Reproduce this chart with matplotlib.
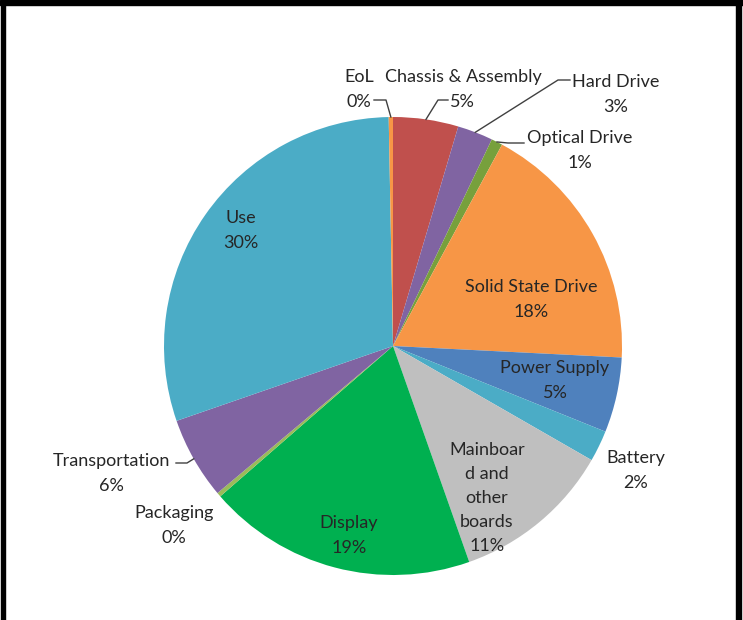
import numpy as np
import matplotlib.pyplot as plt
from matplotlib.patches import Rectangle

# slices, clockwise from 12 o'clock
names = ['Chassis & Assembly', 'Hard Drive', 'Optical Drive', 'Solid State Drive',
         'Power Supply', 'Battery', 'Mainboar\nd and\nother\nboards', 'Display',
         'Packaging', 'Transportation', 'Use', 'EoL']
shares = [4.6, 2.5, 0.8, 17.9, 5.3, 2.2, 11.3, 19.0, 0.3, 5.8, 30.0, 0.3]
pct_labels = ['5%', '3%', '1%', '18%', '5%', '2%', '11%', '19%', '0%', '6%', '30%', '0%']
colors = ['#C0504D', '#8064A2', '#77A03C', '#F79646', '#4F81BD', '#4BACC6',
          '#BFBFBF', '#00B050', '#9BBB59', '#8064A2', '#4BACC6', '#F79646']

W, H = 743, 620
txt_col = '#262626'
fs = 13
plt.rcParams['font.family'] = ['Lato', 'DejaVu Sans']

fig = plt.figure(figsize=(W / 100, H / 100), dpi=100)
ax = fig.add_axes([0, 0, 1, 1])

cx, cy, r = 393, H - 346, 229
wedges, _ = ax.pie(shares, colors=colors, startangle=90, counterclock=False,
                   center=(cx, cy), radius=r, frame=True,
                   wedgeprops=dict(linewidth=0))
ax.set_xlim(0, W)
ax.set_ylim(0, H)
ax.set_aspect('equal')
ax.axis('off')

# label positions in pixel coords (x of name, y of name line, x of pct)
label_pos = {
    'Chassis & Assembly': (463, 77, 462),
    'Hard Drive': (616, 82, 616),
    'Optical Drive': (580, 138, 580),
    'Solid State Drive': (531, 287, 531),
    'Power Supply': (555, 368, 555),
    'Battery': (636, 458, 636),
    'Display': (349, 523, 349),
    'Packaging': (174, 513, 174),
    'Transportation': (111, 461, 111),
    'Use': (241, 218, 241),
    'EoL': (359, 77, 359),
}
for name, pct in zip(names, pct_labels):
    if name.startswith('Mainboar'):
        ax.text(487, H - 498, name + '\n' + pct, ha='center', va='center',
                fontsize=fs, color=txt_col, linespacing=1.62)
        continue
    x, y, xp = label_pos[name]
    ax.text(x, H - y, name, ha='center', va='center', fontsize=fs, color=txt_col)
    ax.text(xp, H - y - 25, pct, ha='center', va='center', fontsize=fs, color=txt_col)


def rim(i, frac=0.5, k=1.0):
    w = wedges[i]
    a = np.deg2rad(w.theta1 + frac * (w.theta2 - w.theta1))
    return cx + k * r * np.cos(a), cy + k * r * np.sin(a)


# leader lines: (slice index, text-side points)
leaders = [
    (11, [(374, 100), (386, 100)]),
    (0, [(448, 100), (438, 100)]),
    (1, [(570, 80), (558, 80)]),
    (2, [(524, 143), (508, 143)]),
    (9, [(176, 463), (187, 463)]),
]
for i, pts in leaders:
    ex, ey = rim(i)
    xs = [p[0] for p in pts] + [ex]
    ys = [H - p[1] for p in pts] + [ey]
    ax.plot(xs, ys, color='#404040', lw=1)

# black frame on top, left and right
for x0, y0, w, h in [(0, H - 5, W, 5), (1, 0, 4, H), (W - 7, 0, 5, H)]:
    fig.patches.append(Rectangle((x0 / W, y0 / H), w / W, h / H,
                                 transform=fig.transFigure, color='black'))

fig.savefig('out.png', dpi=100)
